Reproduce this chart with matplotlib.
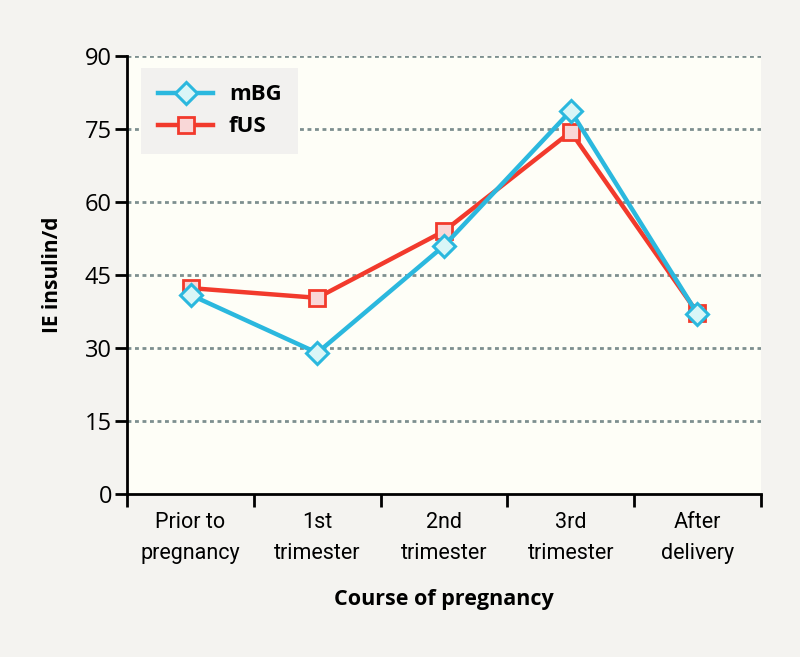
import numpy as np
import matplotlib.pyplot as plt
from matplotlib.lines import Line2D

# Data
stages = ["Prior to\npregnancy", "1st\ntrimester", "2nd\ntrimester", "3rd\ntrimester", "After\ndelivery"]
mbg = [40.9, 29.0, 51.0, 78.7, 37.0]
fus = [42.3, 40.3, 54.0, 74.4, 37.2]
yticks = [0, 15, 30, 45, 60, 75, 90]

plt.rcParams['font.family'] = ['Open Sans', 'DejaVu Sans']

fig = plt.figure(figsize=(8, 6.57), dpi=100, facecolor='#f4f3f0')
ax = fig.add_axes([0.159, 0.248, 0.792, 0.667])
ax.set_facecolor('#fefef7')

x = np.arange(len(stages))
ax.plot(x, fus, '-', color='#f23a2c', lw=3.2, marker='s', ms=12,
        mfc='#f9d7d7', mec='#f23a2c', mew=2, zorder=3)
ax.plot(x, mbg, '-', color='#2bb8de', lw=3.2, marker='D', ms=11,
        mfc='#d9f6f7', mec='#2bb8de', mew=2.2, zorder=4)

ax.set_xlim(-0.5, len(stages) - 0.5)
ax.set_ylim(0, 90)
ax.set_yticks(yticks)
ax.set_xticks(x)
ax.set_xticklabels(stages, fontsize=15.5, linespacing=1.6, family=['Roboto', 'DejaVu Sans'])
ax.set_xticks(np.arange(len(stages) + 1) - 0.5, minor=True)
ax.tick_params(axis='x', which='major', length=0, pad=13)
ax.tick_params(axis='x', which='minor', length=9, width=2)
ax.tick_params(axis='y', labelsize=17, length=9, width=2, pad=2)

for v in yticks[1:]:
    ax.axhline(v, color='#7d8f8f', lw=2, ls=(0, (1.4, 1.3)), zorder=1)

for s in ['top', 'right']:
    ax.spines[s].set_visible(False)
for s in ['left', 'bottom']:
    ax.spines[s].set_linewidth(2)
    ax.spines[s].set_capstyle('projecting')

ax.set_xlabel("Course of pregnancy", fontsize=15.5, fontweight='bold', labelpad=18)
ax.set_ylabel("IE insulin/d", fontsize=15, fontweight='bold', labelpad=16)

handles = [Line2D([], [], color='#2bb8de', lw=3.2, marker='D', ms=11, mfc='#d9f6f7', mec='#2bb8de', mew=2.2),
           Line2D([], [], color='#f23a2c', lw=3.2, marker='s', ms=12, mfc='#f9d7d7', mec='#f23a2c', mew=2)]
leg = ax.legend(handles, ["mBG", "fUS"], loc='upper left', bbox_to_anchor=(0.022, 0.973),
                borderaxespad=0, prop={'weight': 'bold', 'size': 16}, frameon=True, fancybox=False,
                handlelength=2.5, borderpad=0.75, labelspacing=0.5, handletextpad=0.7)
leg.get_frame().set_facecolor('#f2f1ef')
leg.get_frame().set_edgecolor('none')
leg.get_frame().set_alpha(1)

fig.savefig("out.png", dpi=100, facecolor=fig.get_facecolor())
